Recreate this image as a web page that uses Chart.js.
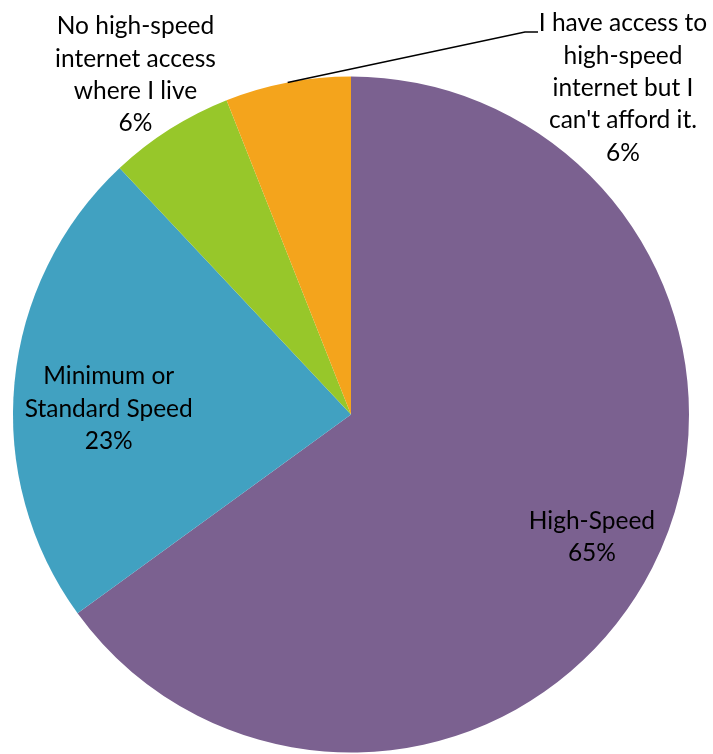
<!DOCTYPE html>
<html>
<head>
<meta charset="utf-8">
<script src="https://cdn.jsdelivr.net/npm/chart.js@4"></script>
<style>
    html, body { margin: 0; padding: 0; background: #fff; }
    .chart-wrapper { width: 713px; height: 754px; position: relative; }
</style>
</head>
<body>
<div class="chart-wrapper"><canvas id="chart"></canvas></div>
<script>
const categories = [
    ['High-Speed'],
    ['Minimum or', 'Standard Speed'],
    ['No high-speed', 'internet access', 'where I live'],
    ['I have access to', 'high-speed', 'internet but I', "can't afford it."],
];
const shares = [65, 23, 6, 6];
const colors = ['#7b6190', '#41a1c1', '#97c72a', '#f4a41c'];

// where each label sits: radial distance as a fraction of the radius
// (plus a small vertical nudge), or a free position with a leader line
// back to the slice edge
const labelPlacement = [
    { radial: 0.80, dy: 0 },
    { radial: 0.72, dy: 17 },
    { radial: 1.19, dy: 0 },
    { x: 623, y: 88, leader: [525, 32, 538, 32] },
];

const LINE_HEIGHT = 32.3;
const FONT = '24.5px Lato, "Open Sans", sans-serif';

const sliceLabels = {
    id: 'sliceLabels',
    afterDatasetsDraw(chart) {
        const ctx = chart.ctx;
        const arcs = chart.getDatasetMeta(0).data;
        ctx.save();
        ctx.font = FONT;
        ctx.fillStyle = '#000';
        ctx.textAlign = 'center';
        ctx.textBaseline = 'middle';
        arcs.forEach((arc, i) => {
            const { x, y, startAngle, endAngle, outerRadius } =
                arc.getProps(['x', 'y', 'startAngle', 'endAngle', 'outerRadius'], true);
            const mid = (startAngle + endAngle) / 2;
            const place = labelPlacement[i];
            const lines = [...categories[i], shares[i] + '%'];
            let cx, cy;
            if (place.radial !== undefined) {
                cx = x + Math.cos(mid) * outerRadius * place.radial;
                cy = y + Math.sin(mid) * outerRadius * place.radial + place.dy;
            } else {
                cx = place.x;
                cy = place.y;
                const [x1, y1, x2, y2] = place.leader;
                ctx.beginPath();
                ctx.moveTo(x + Math.cos(mid) * outerRadius, y + Math.sin(mid) * outerRadius);
                ctx.lineTo(x1, y1);
                ctx.lineTo(x2, y2);
                ctx.strokeStyle = '#000';
                ctx.lineWidth = 1.5;
                ctx.stroke();
            }
            const top = cy - (lines.length - 1) * LINE_HEIGHT / 2;
            lines.forEach((line, j) => {
                ctx.fillText(line, cx, top + j * LINE_HEIGHT);
            });
        });
        ctx.restore();
    },
};

new Chart(document.getElementById('chart'), {
    type: 'pie',
    data: {
        labels: categories.map(c => c.join(' ')),
        datasets: [{
            data: shares,
            backgroundColor: colors,
            borderWidth: 0,
        }],
    },
    options: {
        responsive: true,
        maintainAspectRatio: false,
        animation: false,
        layout: {
            padding: { left: 13, right: 24, top: 76.5, bottom: 1.5 },
        },
        plugins: {
            legend: { display: false },
            tooltip: { enabled: false },
        },
    },
    plugins: [sliceLabels],
});
</script>
</body>
</html>
